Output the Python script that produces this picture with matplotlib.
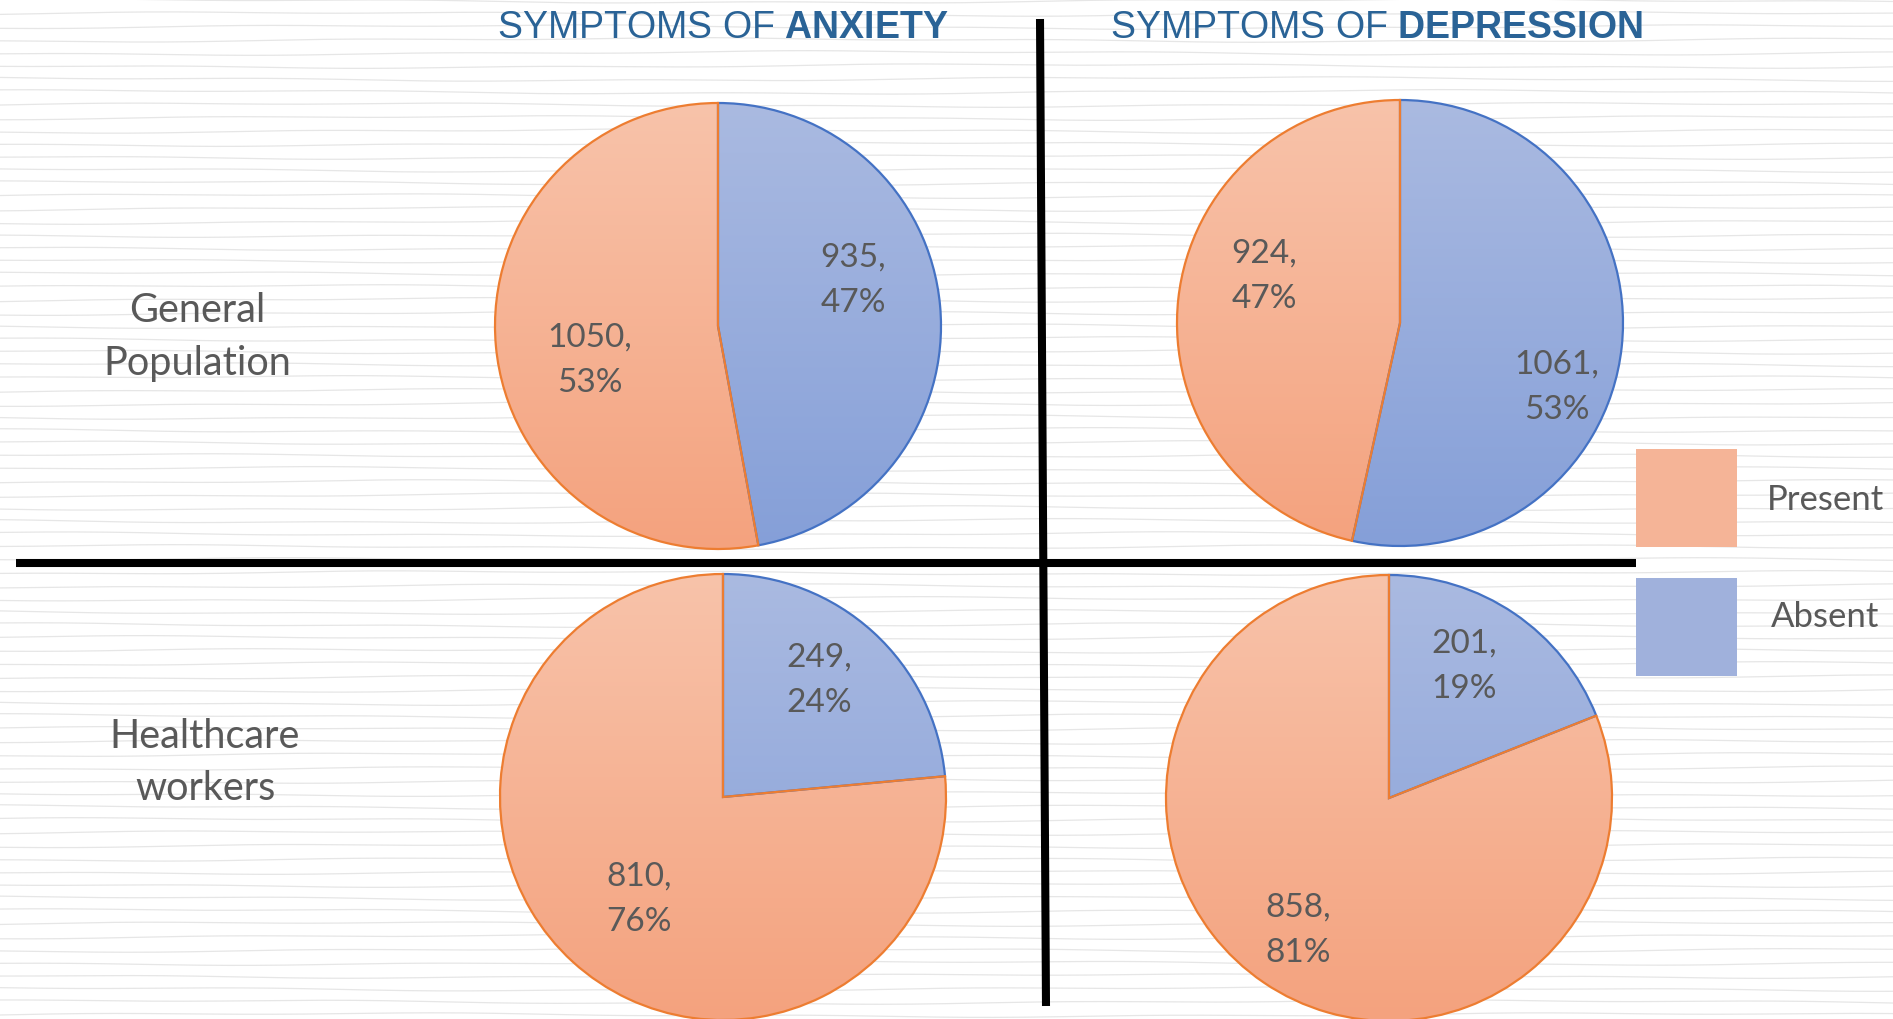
import numpy as np
import matplotlib.pyplot as plt
from matplotlib.patches import Rectangle
from matplotlib.colors import LinearSegmentedColormap

# ---------------------------------------------------------------------------
# Data
# ---------------------------------------------------------------------------
categories = ["Absent", "Present"]
column_titles = ["ANXIETY", "DEPRESSION"]
row_labels = ["General\nPopulation", "Healthcare\nworkers"]

# counts in the order of `categories`
anxiety_general = [935, 1050]
depression_general = [1061, 924]
anxiety_healthcare = [249, 810]
depression_healthcare = [201, 858]

# ---------------------------------------------------------------------------
# Layout (pixel coordinates, origin bottom-left)
# ---------------------------------------------------------------------------
W, H = 1893, 1020
R = 223
panels = [
    (anxiety_general, (718, 693), [(135, 47), (-128, -33)]),
    (depression_general, (1400, 696), [(157, -63), (-136, 48)]),
    (anxiety_healthcare, (723, 222), [(96, 118), (-84, -101)]),
    (depression_healthcare, (1389, 221), [(75, 133), (-91, -131)]),
]

edge_colors = {"Absent": "#4472C4", "Present": "#ED7D31"}
grad_colors = {
    "Absent": ["#AABAE1", "#859FD8"],
    "Present": ["#F8C3AA", "#F4A27E"],
}
legend_colors = {"Present": "#F5B497", "Absent": "#A0B1DC"}
TEXT = "#595959"
TITLE = "#2A6396"
LABEL_FONT = "Lato"

plt.rcParams["mathtext.fontset"] = "custom"
plt.rcParams["mathtext.rm"] = "Liberation Sans"
plt.rcParams["mathtext.bf"] = "Liberation Sans:bold"

fig = plt.figure(figsize=(W / 100, H / 100), dpi=100)
ax = fig.add_axes([0, 0, 1, 1])

# faint wood-grain style background lines (decoration only)
xs = np.linspace(0, W, 300)
for i, y0 in enumerate(range(4, H, 13)):
    yy = y0 + 1.6 * np.sin(xs / 210.0 + i * 0.9) + 0.8 * np.sin(xs / 57.0 + i * 1.7)
    ax.plot(xs, yy, color="#E6E6E6", lw=0.9, zorder=0)

grad = np.linspace(0, 1, 256).reshape(-1, 1)

for values, (cx, cy), offsets in panels:
    wedges, _ = ax.pie(values, center=(cx, cy), radius=R, startangle=90,
                       counterclock=False, normalize=True, frame=True,
                       wedgeprops=dict(linewidth=1.6, zorder=3))
    total = sum(values)
    for w, cat, v, (dx, dy) in zip(wedges, categories, values, offsets):
        cmap = LinearSegmentedColormap.from_list(cat, grad_colors[cat])
        img = ax.imshow(grad, cmap=cmap, extent=[cx - R, cx + R, cy - R, cy + R],
                        origin="upper", aspect="auto", zorder=2)
        img.set_clip_path(w)
        w.set_facecolor("none")
        w.set_edgecolor(edge_colors[cat])
        pct = round(100 * v / total)
        ax.text(cx + dx, cy + dy, f"{v},\n{pct}%", ha="center", va="center",
                fontsize=24, color=TEXT, family=LABEL_FONT, linespacing=1.63,
                zorder=5)

# column titles
for title, x in zip(column_titles, [723, 1376]):
    ax.text(x, H - 28, f"SYMPTOMS OF $\\mathbf{{{title}}}$", ha="center",
            va="center", fontsize=27, color=TITLE, family="Liberation Sans",
            zorder=5)

# row labels
for label, (x, y) in zip(row_labels, [(197, H - 337), (205, H - 763)]):
    ax.text(x, y, label, ha="center", va="center", fontsize=28.5, color=TEXT,
            family=LABEL_FONT, linespacing=1.5, zorder=5)

# dividing lines
ax.plot([1040, 1046], [H - 20, H - 1007], color="black", lw=5.8,
        solid_capstyle="butt", zorder=4)
ax.plot([16, 1636], [H - 564, H - 564], color="black", lw=5.8,
        solid_capstyle="butt", zorder=4)

# legend
for cat, (y_top, y_txt) in zip(["Present", "Absent"], [(450, 500), (579, 617)]):
    ax.add_patch(Rectangle((1636, H - y_top - 98), 101, 98,
                           facecolor=legend_colors[cat], edgecolor="none",
                           zorder=4))
    ax.text(1825, H - y_txt, cat, ha="center", va="center", fontsize=25,
            color=TEXT, family=LABEL_FONT, zorder=5)

ax.set_xlim(0, W)
ax.set_ylim(0, H)
ax.set_aspect("auto")
ax.axis("off")

fig.savefig("out.png", dpi=100, facecolor="white")
